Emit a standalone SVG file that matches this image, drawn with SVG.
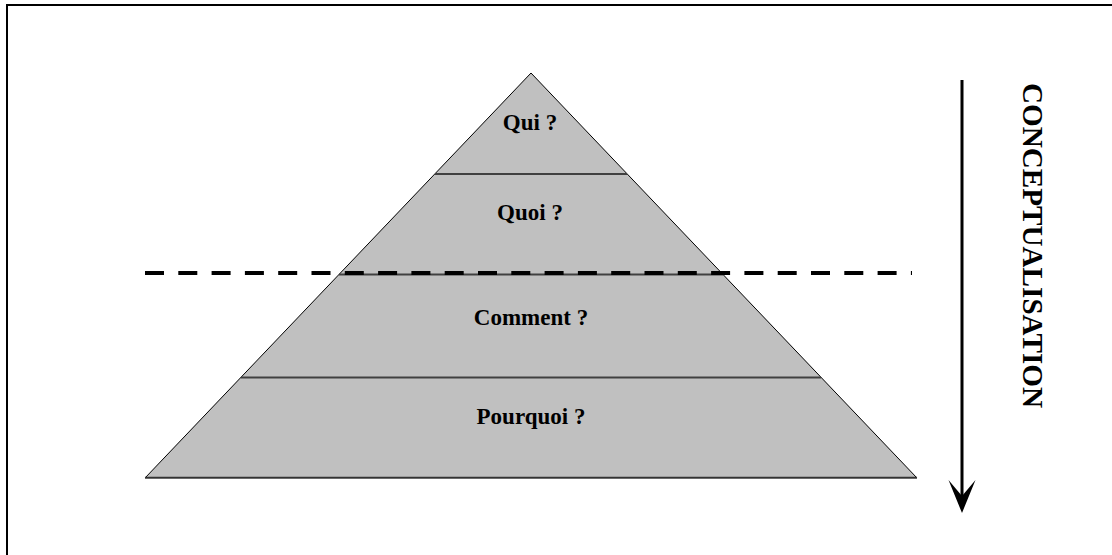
<svg xmlns="http://www.w3.org/2000/svg" width="1112" height="555" viewBox="0 0 1112 555">
<style>
.lbl{font-family:"Liberation Serif","Times New Roman",serif;font-weight:bold;font-size:23px;fill:#000;text-anchor:middle}
.sep{stroke:#404040;stroke-width:2;fill:none}
</style>
<defs>
<marker id="ah" markerUnits="userSpaceOnUse" markerWidth="36" markerHeight="28" refX="20" refY="14" orient="auto" viewBox="0 0 36 28">
<path d="M33,14 L0,0.5 L16,14 L0,27.5 Z" fill="#000"/>
</marker>
</defs>
<rect x="0" y="0" width="1112" height="555" fill="#fff"/>
<rect id="frame" x="7" y="5" width="1120" height="570" fill="none" stroke="#000" stroke-width="2"/>
<g id="pyramid">
<polygon points="531,73 917,478 145,478" fill="#c0c0c0" stroke="#000" stroke-width="1"/>
<line class="sep" x1="435" y1="174" x2="627" y2="174"/>
<line class="sep" x1="339" y1="274.5" x2="723" y2="274.5"/>
<line class="sep" x1="241" y1="377.5" x2="821" y2="377.5"/>
<line x1="145" y1="477.5" x2="917" y2="477.5" stroke="#333" stroke-width="1.5"/>
</g>
<g id="qui"><text class="lbl" x="530" y="130">Qui ?</text></g>
<g id="quoi"><text class="lbl" x="530" y="220">Quoi ?</text></g>
<g id="comment"><text class="lbl" x="531" y="325">Comment ?</text></g>
<g id="pourquoi"><text class="lbl" x="531" y="424">Pourquoi ?</text></g>
<g id="connectors">
<line x1="145" y1="273" x2="912" y2="273" stroke="#000" stroke-width="4" stroke-dasharray="19 14.3"/>
<line x1="962" y1="80" x2="962" y2="500" stroke="#000" stroke-width="3" marker-end="url(#ah)"/>
</g>
<g id="conceptualisation"><text x="1023" y="83" transform="rotate(90 1023 83)" font-family="'Liberation Serif','Times New Roman',serif" font-weight="bold" font-size="29" textLength="325" lengthAdjust="spacingAndGlyphs" fill="#000">CONCEPTUALISATION</text></g>
</svg>
